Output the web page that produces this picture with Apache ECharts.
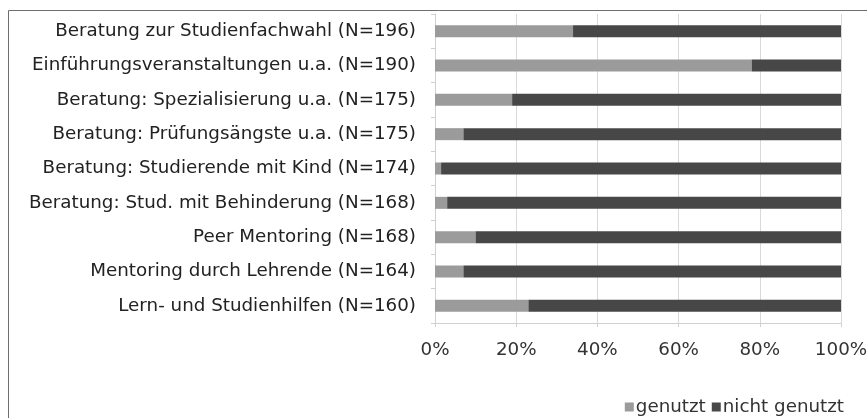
<!DOCTYPE html>
<html>
<head>
<meta charset="utf-8">
<script src="https://cdn.jsdelivr.net/npm/echarts@6/dist/echarts.min.js"></script>
<style>
  html, body { margin: 0; padding: 0; background: #fff; }
  #chart { width: 867px; height: 418px; }
</style>
</head>
<body>
<div id="chart"></div>
<script>
const categories = [
  "Beratung zur Studienfachwahl (N=196)",
  "Einführungsveranstaltungen u.a. (N=190)",
  "Beratung: Spezialisierung u.a. (N=175)",
  "Beratung: Prüfungsängste u.a. (N=175)",
  "Beratung: Studierende mit Kind (N=174)",
  "Beratung: Stud. mit Behinderung (N=168)",
  "Peer Mentoring (N=168)",
  "Mentoring durch Lehrende (N=164)",
  "Lern- und Studienhilfen (N=160)"
];
const genutzt = [34, 78, 19, 7, 1.5, 3, 10, 7, 23];
const nichtGenutzt = genutzt.map(v => 100 - v);
const tickLabels = ["0%", "20%", "40%", "60%", "80%", "100%"];

const chart = echarts.init(document.getElementById("chart"));
const font = "DejaVu Sans, sans-serif";
const fontSize = 18.3;

chart.setOption({
  backgroundColor: "#fff",
  animation: false,
  textStyle: { fontFamily: font },
  grid: { left: 435, right: 26, top: 14, bottom: 95, outerBoundsMode: "none", containLabel: false },
  graphic: [
    {
      type: "rect",
      shape: { x: 8.5, y: 10.5, width: 900, height: 500 },
      style: { fill: null, stroke: "#6e6e6e", lineWidth: 1 }
    }
  ],
  legend: {
    right: 18,
    top: 393,
    itemWidth: 9,
    itemHeight: 9,
    itemGap: 6,
    icon: "rect",
    textStyle: { fontFamily: font, fontSize: fontSize, color: "#333", padding: [0, 0, 0, -3] },
    data: ["genutzt", "nicht genutzt"]
  },
  xAxis: {
    type: "value",
    min: 0,
    max: 100,
    interval: 20,
    axisLine: { show: true, lineStyle: { color: "#d0d0d0" } },
    axisTick: { show: true, length: 4, lineStyle: { color: "#d0d0d0" } },
    splitLine: { show: true, lineStyle: { color: "#d9d9d9" } },
    axisLabel: {
      margin: 18,
      fontSize: fontSize,
      color: "#333",
      fontFamily: font,
      formatter: v => tickLabels[v / 20]
    }
  },
  yAxis: {
    type: "category",
    inverse: true,
    data: categories,
    axisLine: { show: true, lineStyle: { color: "#d0d0d0" } },
    axisTick: { show: true, length: 4, lineStyle: { color: "#d0d0d0" } },
    axisLabel: { margin: 19, fontSize: fontSize, color: "#222", fontFamily: font }
  },
  series: [
    {
      name: "genutzt",
      type: "bar",
      stack: "total",
      barWidth: 12,
      itemStyle: { color: "#9b9b9b" },
      data: genutzt
    },
    {
      name: "nicht genutzt",
      type: "bar",
      stack: "total",
      barWidth: 12,
      itemStyle: { color: "#474747" },
      data: nichtGenutzt
    }
  ]
});
</script>
</body>
</html>
